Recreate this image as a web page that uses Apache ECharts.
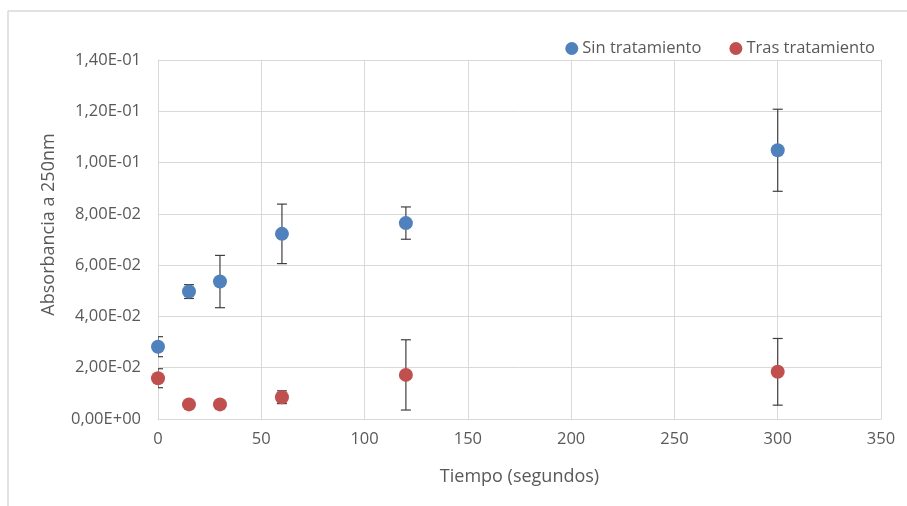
<!DOCTYPE html>
<html>
<head>
<meta charset="utf-8">
<script src="https://cdn.jsdelivr.net/npm/echarts@6/dist/echarts.min.js"></script>
<style>html,body{margin:0;padding:0;background:#fff}#c{width:907px;height:506px}</style>
</head>
<body>
<div id="c"></div>
<script>
var xValues = [0, 15, 30, 60, 120, 300];
var sinValues = [0.0282, 0.0497, 0.0536, 0.0722, 0.0764, 0.1048];
var sinErrors = [0.0039, 0.0027, 0.0102, 0.0116, 0.0063, 0.0160];
var trasValues = [0.0159, 0.0057, 0.0057, 0.0085, 0.0172, 0.0184];
var trasErrors = [0.0037, 0.0008, 0.0010, 0.0025, 0.0137, 0.0130];
var seriesNames = ['Sin tratamiento', 'Tras tratamiento'];

var FONT = 'Open Sans';
var TXT = '#595959';

function fmtSci(v) {
  if (v === 0) return '0,00E+00';
  var s = v.toExponential(2);
  var parts = s.split('e');
  var mant = parts[0].replace('.', ',');
  var exp = parseInt(parts[1], 10);
  var sign = exp < 0 ? '-' : '+';
  var a = Math.abs(exp);
  return mant + 'E' + sign + (a < 10 ? '0' + a : a);
}

function pts(vals) { return xValues.map(function (x, i) { return [x, vals[i]]; }); }
function errData(vals, errs) { return xValues.map(function (x, i) { return [x, vals[i] - errs[i], vals[i] + errs[i]]; }); }

function errRender(params, api) {
  var x = api.value(0);
  var lo = api.coord([x, api.value(1)]);
  var hi = api.coord([x, api.value(2)]);
  var w = 5;
  var st = { stroke: '#404040', lineWidth: 1.2 };
  return {
    type: 'group',
    children: [
      { type: 'line', shape: { x1: lo[0], y1: lo[1], x2: hi[0], y2: hi[1] }, style: st },
      { type: 'line', shape: { x1: lo[0] - w, y1: lo[1], x2: lo[0] + w, y2: lo[1] }, style: st },
      { type: 'line', shape: { x1: hi[0] - w, y1: hi[1], x2: hi[0] + w, y2: hi[1] }, style: st }
    ]
  };
}

var chart = echarts.init(document.getElementById('c'));
chart.setOption({
  animation: false,
  backgroundColor: '#fff',
  textStyle: { fontFamily: FONT },
  graphic: [
    { type: 'line', shape: { x1: 8, y1: 11, x2: 907, y2: 11 }, style: { stroke: '#d9d9d9', lineWidth: 1.5 } },
    { type: 'line', shape: { x1: 8, y1: 11, x2: 8, y2: 506 }, style: { stroke: '#d9d9d9', lineWidth: 1.5 } }
  ],
  grid: { left: 158, right: 26, top: 60, bottom: 87, containLabel: false },
  legend: {
    right: 27, top: 35,
    itemWidth: 13, itemHeight: 13, itemGap: 28,
    icon: 'circle',
    data: seriesNames,
    textStyle: { fontFamily: FONT, fontSize: 16.5, color: TXT, padding: [0, 0, 0, -1] }
  },
  xAxis: {
    type: 'value', min: 0, max: 350, interval: 50,
    name: 'Tiempo (segundos)', nameLocation: 'middle', nameGap: 49,
    nameTextStyle: { fontFamily: FONT, fontSize: 18, color: TXT },
    axisLine: { show: true, onZero: false, lineStyle: { color: '#d9d9d9' } },
    axisTick: { show: false },
    axisLabel: { color: TXT, fontSize: 16.5, fontFamily: FONT, margin: 12 },
    splitLine: { show: true, lineStyle: { color: '#d9d9d9' } }
  },
  yAxis: {
    type: 'value', min: 0, max: 0.14, interval: 0.02,
    name: 'Absorbancia a 250nm', nameLocation: 'middle', nameGap: 100,
    nameTextStyle: { fontFamily: FONT, fontSize: 18, color: TXT, padding: [0, 0, 0, 30] },
    axisLine: { show: true, lineStyle: { color: '#d9d9d9' } },
    axisTick: { show: false },
    axisLabel: { color: TXT, fontSize: 16.5, fontFamily: FONT, margin: 17, formatter: fmtSci },
    splitLine: { show: true, lineStyle: { color: '#d9d9d9' } }
  },
  series: [
    {
      name: seriesNames[0] + ' err', type: 'custom', clip: true, renderItem: errRender,
      data: errData(sinValues, sinErrors), encode: { x: 0, y: [1, 2] }, z: 2, silent: true
    },
    {
      name: seriesNames[1] + ' err', type: 'custom', clip: true, renderItem: errRender,
      data: errData(trasValues, trasErrors), encode: { x: 0, y: [1, 2] }, z: 2, silent: true
    },
    {
      name: seriesNames[0], type: 'scatter', data: pts(sinValues), symbolSize: 14,
      itemStyle: { color: '#4F81BD', opacity: 1 }, z: 3, clip: false
    },
    {
      name: seriesNames[1], type: 'scatter', data: pts(trasValues), symbolSize: 14,
      itemStyle: { color: '#C0504D', opacity: 1 }, z: 3, clip: false
    }
  ]
});
</script>
</body>
</html>
